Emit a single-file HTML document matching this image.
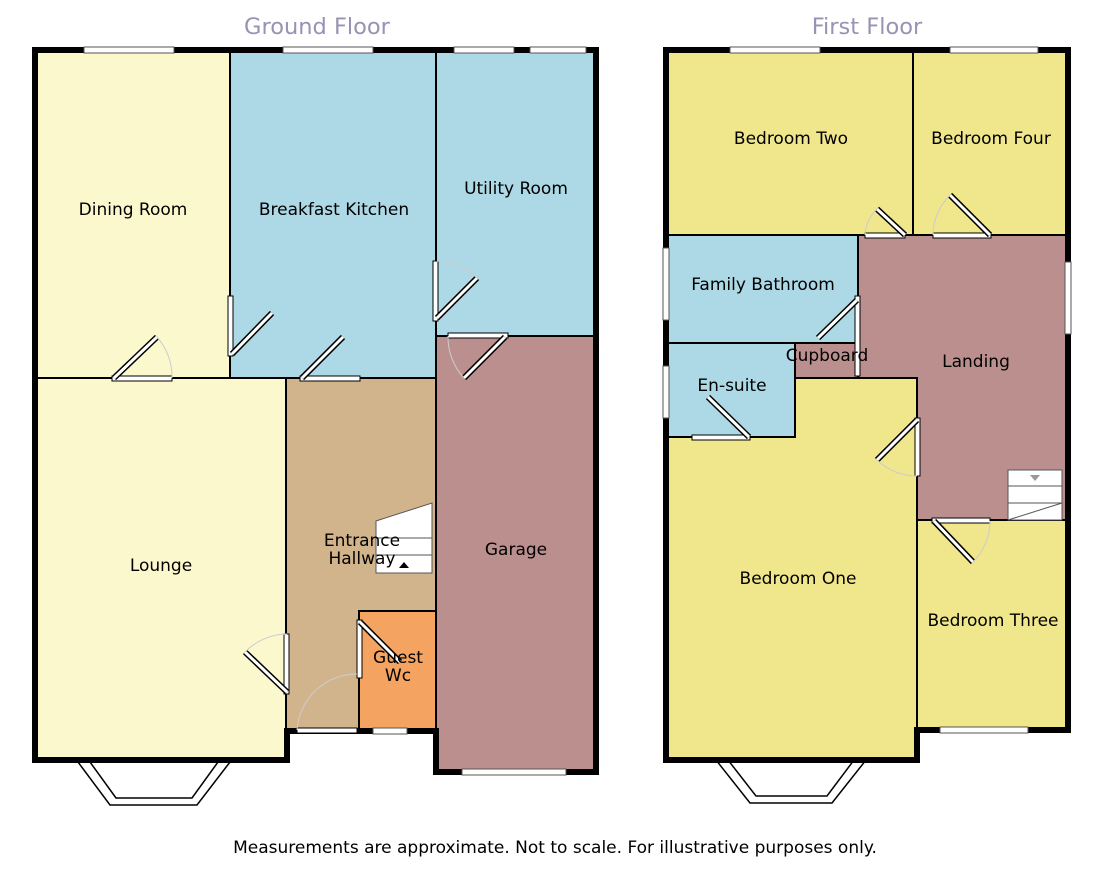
<!DOCTYPE html>
<html><head><meta charset="utf-8"><style>
html,body{margin:0;padding:0;background:#fff;width:1102px;height:888px;overflow:hidden}
svg{display:block}
text{font-family:"DejaVu Sans","Liberation Sans",sans-serif}
</style></head><body>
<svg width="1102" height="888" viewBox="0 0 1102 888" xmlns="http://www.w3.org/2000/svg">
<g stroke="#000" stroke-width="2">
<rect x="35" y="50" width="195" height="328" fill="#FCF8CD"/>
<rect x="230" y="50" width="206" height="328" fill="#ADD8E6"/>
<rect x="436" y="50" width="160" height="286" fill="#ADD8E6"/>
<rect x="35" y="378" width="251" height="382" fill="#FCF8CD"/>
<rect x="286" y="378" width="150" height="352" fill="#D2B48C"/>
<rect x="359" y="611" width="77" height="119" fill="#F4A460"/>
<rect x="436" y="336" width="160" height="436" fill="#BC8F8F"/>
<rect x="666" y="50" width="247" height="185" fill="#F0E68C"/>
<rect x="913" y="50" width="153" height="185" fill="#F0E68C"/>
<rect x="666" y="235" width="192" height="108" fill="#ADD8E6"/>
<path d="M858 235 H1066 V520 H917 V378 H858 Z" fill="#BC8F8F"/>
<rect x="795" y="343" width="63" height="35" fill="#BC8F8F"/>
<path d="M666 343 H795 V378 H917 V760 H666 Z" fill="#F0E68C"/>
<rect x="666" y="343" width="129" height="94" fill="#ADD8E6"/>
<rect x="917" y="520" width="149" height="210" fill="#F0E68C"/>
</g>
<g stroke="#555" stroke-width="1" fill="#fff">
<path d="M376 521 L432 503 V573 H376 Z"/>
<line x1="376" y1="538" x2="432" y2="538"/><line x1="376" y1="555" x2="432" y2="555"/>
<path d="M1008 520 V470 H1062 V520 Z"/>
<line x1="1008" y1="486" x2="1062" y2="486"/><line x1="1008" y1="503" x2="1062" y2="503"/>
<line x1="1008" y1="520" x2="1062" y2="503"/>
</g>
<polygon points="399,568 409,568 404,562" fill="#000"/>
<polygon points="1030,475 1040,475 1035,481" fill="#999"/>
<g fill="none" stroke="#000" stroke-width="6" stroke-linejoin="miter">
<path d="M35 50 H596 V772 H436 V731 H287 V760 H35 Z"/>
<path d="M666 50 H1068 V730 H917 V760 H666 Z"/>
</g>
<g fill="#fff" stroke="#555" stroke-width="1">
<rect x="84" y="47" width="90" height="6"/><rect x="283" y="47" width="90" height="6"/>
<rect x="454" y="47" width="60" height="6"/><rect x="530" y="47" width="56" height="6"/>
<rect x="462" y="769" width="104" height="6"/><rect x="373" y="728" width="34" height="6"/>
<rect x="730" y="47" width="90" height="6"/><rect x="950" y="47" width="88" height="6"/>
<rect x="663" y="248" width="6" height="72"/><rect x="663" y="366" width="6" height="52"/>
<rect x="1065" y="262" width="6" height="72"/><rect x="940" y="727" width="88" height="6"/>
</g>
<g fill="none" stroke="#000" stroke-width="1.5">
<path d="M78 762 L110 805 H197 L230 762"/><path d="M90 762 L116 798 H192 L218 762"/>
<path d="M716 760 L750 803 H832 L866 760"/><path d="M728 760 L756 796 H827 L854 760"/>
</g>
<g fill="#fff" stroke="#000" stroke-width="1">
<rect x="112" y="376" width="60" height="5"/>
<rect x="228" y="296" width="5" height="60"/>
<rect x="300" y="376" width="60" height="5"/>
<rect x="433" y="261" width="5" height="60"/>
<rect x="448" y="333" width="60" height="5"/>
<rect x="284" y="634" width="5" height="60"/>
<rect x="297" y="728" width="60" height="5"/>
<rect x="357" y="620" width="5" height="58"/>
<rect x="865" y="233" width="40" height="5"/>
<rect x="933" y="233" width="58" height="5"/>
<rect x="855" y="296" width="5" height="80"/>
<rect x="692" y="435" width="58" height="5"/>
<rect x="915" y="418" width="5" height="58"/>
<rect x="932" y="518" width="58" height="5"/>
</g>
<g stroke="#000" stroke-width="6" stroke-linecap="butt">
<line x1="114" y1="378" x2="157" y2="337"/><line x1="232" y1="354" x2="272" y2="313"/>
<line x1="302" y1="378" x2="343" y2="337"/><line x1="437" y1="318" x2="477" y2="278"/>
<line x1="505" y1="337" x2="464" y2="378"/><line x1="287" y1="692" x2="245" y2="652"/>
<line x1="360" y1="622" x2="400" y2="662"/><line x1="905" y1="235" x2="877" y2="209"/>
<line x1="990" y1="235" x2="950" y2="195"/><line x1="857" y1="300" x2="818" y2="338"/>
<line x1="749" y1="437" x2="708" y2="397"/><line x1="917" y1="420" x2="877" y2="460"/>
<line x1="934" y1="521" x2="973" y2="562"/>
</g>
<g stroke="#fff" stroke-width="3" stroke-linecap="butt">
<line x1="114" y1="378" x2="157" y2="337"/><line x1="232" y1="354" x2="272" y2="313"/>
<line x1="302" y1="378" x2="343" y2="337"/><line x1="437" y1="318" x2="477" y2="278"/>
<line x1="505" y1="337" x2="464" y2="378"/><line x1="287" y1="692" x2="245" y2="652"/>
<line x1="360" y1="622" x2="400" y2="662"/><line x1="905" y1="235" x2="877" y2="209"/>
<line x1="990" y1="235" x2="950" y2="195"/><line x1="857" y1="300" x2="818" y2="338"/>
<line x1="749" y1="437" x2="708" y2="397"/><line x1="917" y1="420" x2="877" y2="460"/>
<line x1="934" y1="521" x2="973" y2="562"/>
</g>
<g fill="none" stroke="#ccc" stroke-width="1">
<path d="M157 337 A60 60 0 0 1 172 378"/><path d="M287 634 A60 60 0 0 0 245 652"/>
<path d="M297 730 A60 60 0 0 1 357 674"/><path d="M448 336 A60 60 0 0 0 464 378"/>
<path d="M877 209 A40 40 0 0 0 865 235"/><path d="M950 195 A58 58 0 0 0 933 235"/>
<path d="M917 476 A58 58 0 0 1 877 460"/><path d="M990 521 A58 58 0 0 1 973 562"/>
<path d="M437 261 A58 58 0 0 1 477 278"/>
</g>
<g font-size="17" fill="#000" text-anchor="middle">
<text x="133" y="215">Dining Room</text>
<text x="334" y="215">Breakfast Kitchen</text>
<text x="516" y="194">Utility Room</text>
<text x="161" y="571">Lounge</text>
<text x="362" y="546">Entrance</text><text x="362" y="564">Hallway</text>
<text x="398" y="663">Guest</text><text x="398" y="681">Wc</text>
<text x="516" y="555">Garage</text>
<text x="791" y="144">Bedroom Two</text>
<text x="991" y="144">Bedroom Four</text>
<text x="763" y="290">Family Bathroom</text>
<text x="827" y="361">Cupboard</text>
<text x="976" y="367">Landing</text>
<text x="732" y="391">En-suite</text>
<text x="798" y="584">Bedroom One</text>
<text x="993" y="626">Bedroom Three</text>
<text x="555" y="853">Measurements are approximate. Not to scale. For illustrative purposes only.</text>
</g>
<g font-size="22.5" fill="#9892B5" text-anchor="middle">
<text x="317" y="34">Ground Floor</text>
<text x="867" y="34">First Floor</text>
</g>
</svg>
</body></html>
